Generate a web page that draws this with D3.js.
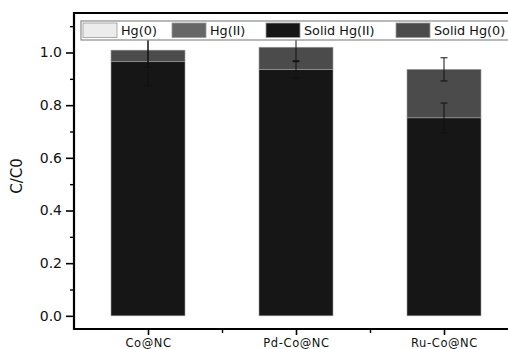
<!DOCTYPE html>
<html>
<head>
<meta charset="utf-8">
<script src="https://cdn.jsdelivr.net/npm/d3@7"></script>
<style>
  body { margin: 0; background: #fff; }
  svg { display: block; font-family: 'DejaVu Sans', sans-serif; }
</style>
</head>
<body>
<div class="visContainer"></div>
<script>
const categories = ['Co@NC', 'Pd-Co@NC', 'Ru-Co@NC'];
const seriesNames = ['Hg(0)', 'Hg(II)', 'Solid Hg(II)', 'Solid Hg(0)'];
const hg0 = [0, 0, 0];
const hg2 = [0, 0, 0];
const solidHg2 = [0.965, 0.936, 0.752];
const solidHg0 = [0.044, 0.084, 0.184];
const solidHg2Err = [0.090, 0.033, 0.056];
const solidHg0Err = [0.065, 0.055, 0.044];
const yTicks = [0.0, 0.2, 0.4, 0.6, 0.8, 1.0];
const yMinorTicks = [0.1, 0.3, 0.5, 0.7, 0.9, 1.1];

const colors = ['#ececec', '#666666', '#161616', '#4b4b4b'];

const width = 508;
const height = 349;
const padL = 74, padR = 518, padT = 13, padB = 329;

const svg = d3.select('.visContainer')
              .append('svg')
              .attr('width', width)
              .attr('height', height);

const xScale = d3.scaleLinear()
                 .domain([-0.5, 2.5])
                 .range([padL, padR]);
const yScale = d3.scaleLinear()
                 .domain([-0.05, 1.15])
                 .range([padB, padT]);

// stack the series in drawing order: solid Hg(II) at the bottom, then solid Hg(0), then liquid ones
const rows = categories.map((c, i) => ({
    cat: i,
    'Solid Hg(II)': solidHg2[i],
    'Solid Hg(0)': solidHg0[i],
    'Hg(II)': hg2[i],
    'Hg(0)': hg0[i]
}));
const stackKeys = ['Solid Hg(II)', 'Solid Hg(0)', 'Hg(II)', 'Hg(0)'];
const stacked = d3.stack().keys(stackKeys)(rows);
const colorOf = d3.scaleOrdinal().domain(seriesNames).range(colors);

const barW = xScale(0.25) - xScale(-0.25);

svg.append('g')
   .selectAll('g')
   .data(stacked)
   .enter()
   .append('g')
   .attr('fill', (d) => colorOf(d.key))
   .selectAll('rect')
   .data((d) => d.filter((p) => p[1] - p[0] > 0))
   .enter()
   .append('rect')
   .attr('x', (d) => xScale(d.data.cat) - barW / 2)
   .attr('y', (d) => yScale(d[1]))
   .attr('width', barW)
   .attr('height', (d) => yScale(d[0]) - yScale(d[1]))
   .attr('stroke', '#a0a0a0')
   .attr('stroke-width', 0.6);

// error bars at the top of each segment
const errs = [];
categories.forEach((c, i) => {
    errs.push({ i: i, v: solidHg2[i], e: solidHg2Err[i] });
    errs.push({ i: i, v: solidHg2[i] + solidHg0[i], e: solidHg0Err[i] });
});
const eb = svg.append('g')
              .attr('stroke', '#111')
              .attr('stroke-width', 1);
eb.selectAll('line.v')
  .data(errs)
  .enter()
  .append('line')
  .attr('x1', (d) => xScale(d.i))
  .attr('x2', (d) => xScale(d.i))
  .attr('y1', (d) => yScale(d.v + d.e))
  .attr('y2', (d) => yScale(d.v - d.e));
eb.selectAll('line.top')
  .data(errs)
  .enter()
  .append('line')
  .attr('x1', (d) => xScale(d.i) - 3.5)
  .attr('x2', (d) => xScale(d.i) + 3.5)
  .attr('y1', (d) => yScale(d.v + d.e))
  .attr('y2', (d) => yScale(d.v + d.e));
eb.selectAll('line.bot')
  .data(errs)
  .enter()
  .append('line')
  .attr('x1', (d) => xScale(d.i) - 3.5)
  .attr('x2', (d) => xScale(d.i) + 3.5)
  .attr('y1', (d) => yScale(d.v - d.e))
  .attr('y2', (d) => yScale(d.v - d.e));

// axes
const yAxis = d3.axisLeft(yScale)
                .tickValues(yTicks)
                .tickFormat(d3.format('.1f'))
                .tickSize(8)
                .tickPadding(4);
const yg = svg.append('g')
              .attr('transform', 'translate(' + padL + ',0)')
              .call(yAxis);
yg.select('.domain').remove();
yg.selectAll('.tick line').attr('stroke-width', 1.6);
yg.selectAll('.tick text')
  .attr('font-size', 14)
  .attr('font-family', 'DejaVu Sans')
  .attr('fill', '#111');
svg.append('g')
   .attr('transform', 'translate(' + padL + ',0)')
   .call(d3.axisLeft(yScale).tickValues(yMinorTicks).tickSize(4).tickFormat(''))
   .call((g) => g.select('.domain').remove())
   .selectAll('.tick line').attr('stroke-width', 1.4);

const xAxis = d3.axisBottom(xScale)
                .tickValues([0, 1, 2])
                .tickFormat((d) => categories[d])
                .tickSize(6)
                .tickPadding(4);
const xg = svg.append('g')
              .attr('transform', 'translate(0,' + padB + ')')
              .call(xAxis);
xg.select('.domain').remove();
xg.selectAll('.tick line').attr('stroke-width', 1.6);
xg.selectAll('.tick text')
  .attr('font-size', 11.5)
  .attr('font-family', 'DejaVu Sans')
  .attr('letter-spacing', 0.6)
  .attr('fill', '#111');
svg.append('g')
   .attr('transform', 'translate(0,' + padB + ')')
   .call(d3.axisBottom(xScale).tickValues([0.5, 1.5]).tickSize(4).tickFormat(''))
   .call((g) => g.select('.domain').remove())
   .selectAll('.tick line').attr('stroke-width', 1.4);

// frame
svg.append('path')
   .attr('d', 'M' + padR + ',' + padT + 'H' + padL + 'V' + padB + 'H' + padR)
   .attr('fill', 'none')
   .attr('stroke', '#000')
   .attr('stroke-width', 2.2);

// y label
svg.append('text')
   .attr('transform', 'translate(22,' + ((padT + padB) / 2 + 5) + ') rotate(-90)')
   .attr('text-anchor', 'middle')
   .attr('font-size', 15)
   .attr('fill', '#111')
   .text('C/C0');

// legend
const legend = svg.append('g');
legend.append('rect')
      .attr('x', 81)
      .attr('y', 21)
      .attr('width', 440)
      .attr('height', 19)
      .attr('fill', '#fff')
      .attr('stroke', '#8a8a8a')
      .attr('stroke-width', 1.2);
const legX = [83, 172, 266, 396];
const legItems = legend.selectAll('g.item')
                       .data(seriesNames)
                       .enter()
                       .append('g')
                       .attr('transform', (d, i) => 'translate(' + legX[i] + ',23)');
legItems.append('rect')
        .attr('width', 34)
        .attr('height', 14.5)
        .attr('fill', (d) => colorOf(d))
        .attr('stroke', '#9a9a9a')
        .attr('stroke-width', 0.8);
legItems.append('text')
        .attr('x', 38)
        .attr('y', 12)
        .attr('font-size', 12.8)
        .attr('fill', '#111')
        .text((d) => d);
</script>
</body>
</html>
